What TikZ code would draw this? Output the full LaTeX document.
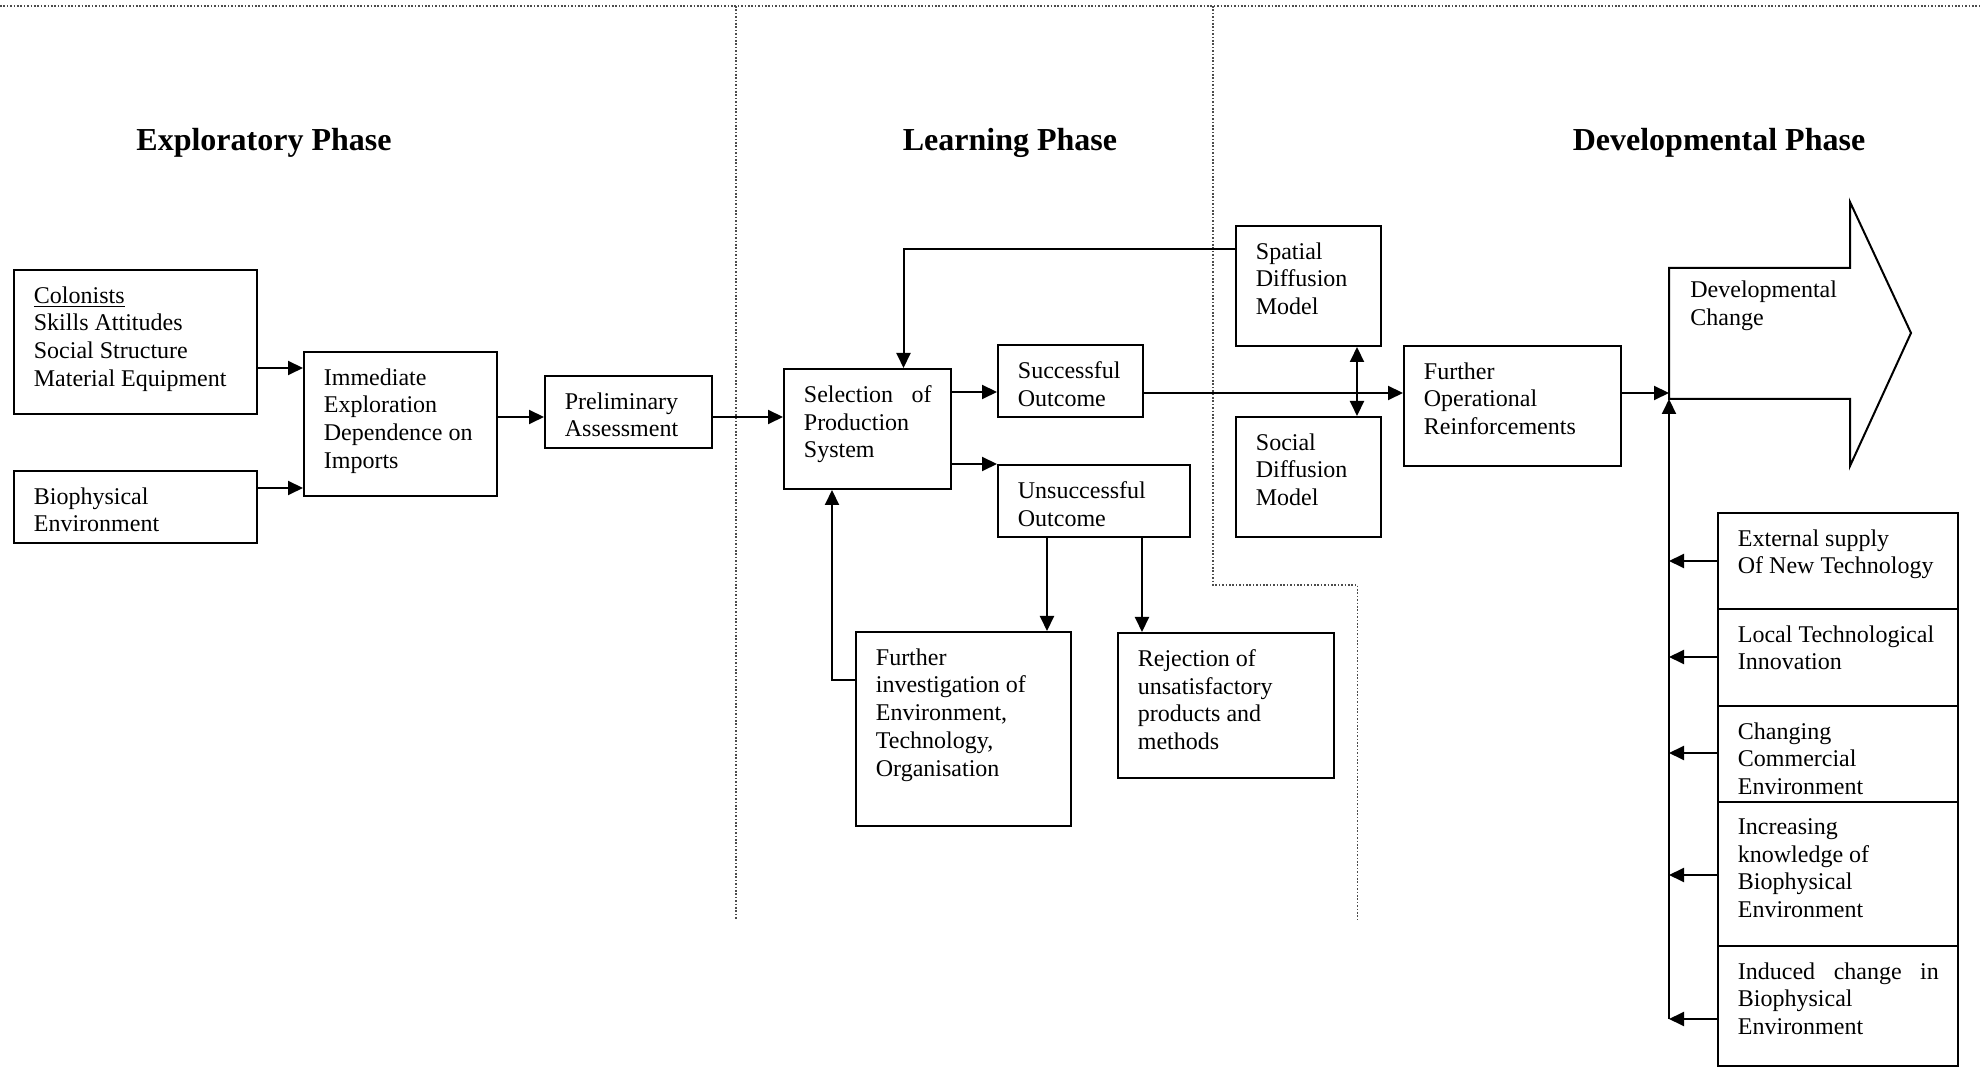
\documentclass[tikz,border=0pt]{standalone}
\usepackage{fontspec}
\setmainfont{Liberation Serif}
\usetikzlibrary{arrows.meta,calc}
\tikzset{
 box/.style={draw, line width=1pt, inner sep=0pt, rectangle},
 txt/.style={inner sep=0pt, align=left, font=\fontsize{12}{13.9}\selectfont},
 ttl/.style={inner sep=0pt, font=\bfseries\fontsize{16}{19}\selectfont},
 arr/.style={line width=1pt, -{Triangle[length=7.5pt,width=7pt]}},
 dbl/.style={line width=1pt, {Triangle[length=7.5pt,width=7pt]}-{Triangle[length=7.5pt,width=7pt]}},
 dotline/.style={line width=0.7pt, dash pattern=on 0.8pt off 0.9pt, black!70},
}
\newcommand\mybox[6]{%
 \node[box, minimum width={(#4-#2)*0.5pt}, minimum height={(#5-#3)*0.5pt}] (#1) at ({(#2+#4)/2},{(#3+#5)/2}) {};
 \node[txt, anchor=north west] (#1-t) at ([shift={(20.5,17)}]#1.north west) {#6};}
\begin{document}
\begin{tikzpicture}[x=0.5pt,y=-0.5pt]
\useasboundingbox (0,0) rectangle (1982,1068);
% dotted phase separators
\draw[dotline] (0,6) -- (1982,6);
\draw[dotline] (736,6) -- (736,920);
\draw[dotline] (1213,6) -- (1213,585) -- (1357.6,585) -- (1357.6,920);
% titles
\node[ttl] (t1) at (264,143) {Exploratory Phase};
\node[ttl] (t2) at (1010,143) {Learning Phase};
\node[ttl] (t3) at (1719,143) {Developmental Phase};
% boxes
\mybox{col}{14}{270}{257}{414}{\underline{Colonists}\\Skills Attitudes\\Social Structure\\Material Equipment}
\mybox{bio}{14}{471}{257}{543}{Biophysical\\Environment}
\mybox{imm}{304}{352}{497}{496}{Immediate\\Exploration\\Dependence on\\Imports}
\mybox{pre}{545}{376}{712}{448}{Preliminary\\Assessment}
\mybox{sel}{784}{369}{951}{489}{\makebox[63.8pt][s]{Selection of}\\Production\\System}
\mybox{suc}{998}{345}{1143}{417}{Successful\\Outcome}
\mybox{uns}{998}{465}{1190}{537}{Unsuccessful\\Outcome}
\mybox{fi}{856}{632}{1071}{826}{Further\\investigation of\\Environment,\\Technology,\\Organisation}
\mybox{rej}{1118}{633}{1334}{778}{Rejection of\\unsatisfactory\\products and\\methods}
\mybox{spa}{1236}{226}{1381}{346}{Spatial\\Diffusion\\Model}
\mybox{soc}{1236}{417}{1381}{537}{Social\\Diffusion\\Model}
\mybox{fur}{1404}{346}{1621}{466}{Further\\Operational\\Reinforcements}
\mybox{rb1}{1718}{513}{1958}{609}{External supply\\Of New Technology}
\mybox{rb2}{1718}{609}{1958}{706}{Local Technological\\Innovation}
\mybox{rb3}{1718}{706}{1958}{802}{Changing\\Commercial\\Environment}
\mybox{rb4}{1718}{802}{1958}{946}{Increasing\\knowledge of\\Biophysical\\Environment}
\mybox{rb5}{1718}{946}{1958}{1066}{\makebox[100.5pt][s]{Induced change in}\\Biophysical\\Environment}
% big arrow
\draw[box] (1669,268) -- (1850,268) -- (1850,202) -- (1911,333) -- (1850,466) -- (1850,399) -- (1669,399) -- cycle;
\coordinate (dc) at (1669,399);
\coordinate (dcin) at (1669,393);
\coordinate (vbot) at (1669,1019);
\node[txt, anchor=north west] (dct) at (1690,280.5) {Developmental\\Change};
% connectors
\draw[arr] (col.east |- 0,368) -- (imm.west |- 0,368);
\draw[arr] (bio.east |- 0,488) -- (imm.west |- 0,488);
\draw[arr] (imm.east |- 0,417) -- (pre.west |- 0,417);
\draw[arr] (pre.east |- 0,417) -- (sel.west |- 0,417);
\draw[arr] (sel.east |- 0,392) -- (suc.west |- 0,392);
\draw[arr] (sel.east |- uns.north) -- (uns.north west);
\draw[arr] (suc.east |- 0,393) -- (fur.west |- 0,393);
\draw[dbl] (spa.south -| 1357,0) -- (soc.north -| 1357,0);
\draw[arr] (spa.west |- 0,249) -| (sel.north -| 903.5,0);
\draw[arr] (uns.south -| 1047,0) -- (fi.north -| 1047,0);
\draw[arr] (uns.south -| 1142,0) -- (rej.north -| 1142,0);
\draw[arr] (fi.west |- 0,680) -| (sel.south -| 832,0);
\draw[arr] (fur.east |- dcin) -- (dcin);
\draw[arr] (vbot) -- (dc);
\draw[arr] (rb1.west |- 0,561) -- (dc |- 0,561);
\draw[arr] (rb2.west |- 0,657) -- (dc |- 0,657);
\draw[arr] (rb3.west |- 0,753) -- (dc |- 0,753);
\draw[arr] (rb4.west |- 0,875) -- (dc |- 0,875);
\draw[arr] (rb5.west |- vbot) -- (vbot);
\end{tikzpicture}
\end{document}
